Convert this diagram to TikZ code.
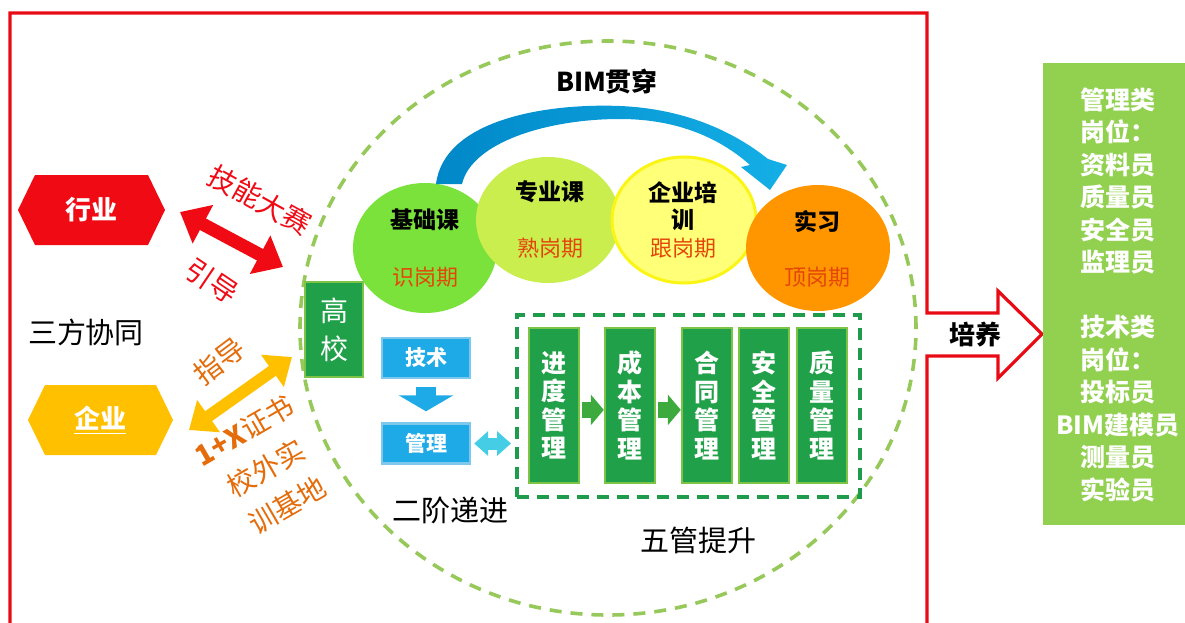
\documentclass[tikz,border=0pt]{standalone}
\usepackage{fontspec}
\setmainfont{Noto Sans CJK SC}
\usetikzlibrary{arrows.meta,shapes.geometric}
\definecolor{framered}{RGB}{232,10,20}
\definecolor{hyred}{RGB}{240,10,20}
\definecolor{qyorange}{RGB}{255,192,0}
\definecolor{txtorange}{RGB}{228,108,10}
\definecolor{ringgreen}{RGB}{150,200,90}
\definecolor{boxgreen}{RGB}{32,160,72}
\definecolor{boxedge}{RGB}{125,195,70}
\definecolor{rectgreen}{RGB}{30,155,75}
\definecolor{c1col}{RGB}{122,226,58}
\definecolor{c2col}{RGB}{202,238,78}
\definecolor{c3col}{RGB}{255,255,120}
\definecolor{c3edge}{RGB}{250,245,20}
\definecolor{c4col}{RGB}{255,150,0}
\definecolor{subred}{RGB}{228,70,10}
\definecolor{bluebox}{RGB}{30,170,230}
\definecolor{blueedge}{RGB}{125,200,235}
\definecolor{cyanarr}{RGB}{70,205,230}
\definecolor{arrgreen}{RGB}{60,170,60}
\definecolor{jobgreen}{RGB}{146,208,80}
\definecolor{bigblueL}{RGB}{0,135,200}
\definecolor{bigblueR}{RGB}{20,175,230}
\newcommand\fsz[2]{\fontsize{#1}{#2}\selectfont}
\begin{document}
\begin{tikzpicture}[x=0.5pt,y=-0.5pt,
  gbox/.style={draw=boxedge,fill=boxgreen,line width=1.2pt,text=white,inner sep=0pt,align=center},
  fivebox/.style={gbox,minimum width=25pt,minimum height=77.5pt,font=\fsz{12.5pt}{14.25pt}\bfseries},
  bbox/.style={draw=blueedge,fill=bluebox,line width=1.2pt,text=white,inner sep=0pt,minimum width=44pt,minimum height=20pt,font=\fsz{10.5pt}{12pt}\bfseries},
  ball/.style={ellipse,inner sep=0pt,minimum width=72pt,minimum height=63pt},
  title/.style={font=\fsz{11.5pt}{14pt}\bfseries,text=black,inner sep=0pt},
  sub/.style={font=\fsz{11pt}{13pt},text=subred,inner sep=0pt},
  plain/.style={font=\fsz{14.5pt}{17pt},text=black,inner sep=0pt},
  redtxt/.style={font=\fsz{14pt}{16pt},text=hyred,inner sep=0pt},
  orgtxt/.style={font=\fsz{14pt}{21.5pt},text=txtorange,inner sep=0pt,align=center},
  greenarrow/.style={draw=arrgreen,line width=8pt,-{Triangle[length=6.5pt,width=15pt]}},
]
\useasboundingbox (0,0) rectangle (1185,622);
\clip (0,0) rectangle (1185,622);

% dashed ring
\draw[ringgreen,line width=1.8pt,dash pattern=on 6pt off 4.5pt] (608,328) ellipse [x radius=154pt,y radius=143.5pt];

% red frame with arrow
\draw[framered,line width=1.6pt,line join=miter]
  (10,640) -- (10,13) -- (927,13) -- (927,313) -- (998,313) -- (998,291) -- (1042,334)
  -- (998,378) -- (998,356) -- (927,356) -- (927,640);
\node[font=\fsz{13pt}{15pt}\bfseries,inner sep=0pt] (py) at (975,335) {培养};

% job box
\node[fill=jobgreen,minimum width=73pt,minimum height=231pt,inner sep=0pt] (jobbox) at (1116,294) {};
\node[font=\fsz{12.5pt}{16.25pt}\bfseries,text=white,align=center,inner sep=0pt] (jobs) at (1118,295)
  {管理类\\岗位：\\资料员\\质量员\\安全员\\监理员\\[16.25pt]技术类\\岗位：\\投标员\\BIM建模员\\测量员\\实验员};

% hexagons
\fill[hyred] (18,210) -- (35,175) -- (148,175) -- (165,210) -- (148,245) -- (35,245) -- cycle;
\node[font=\fsz{13pt}{15pt}\bfseries,text=white,inner sep=0pt] (hy) at (91.5,210) {行业};
\fill[qyorange] (28,420) -- (45,385) -- (156,385) -- (173,420) -- (156,455) -- (45,455) -- cycle;
\node[font=\fsz{13pt}{15pt}\bfseries,text=white,inner sep=0pt] (qy) at (100.5,420) {\underline{企业}};
\node[plain] (sf) at (86,332) {三方协同};

% gaoxiao
\node[gbox,minimum width=29pt,minimum height=47.5pt,font=\fsz{14pt}{19pt}] (gx) at (334,329.5) {高\\校};

% double arrows
\coordinate (r1) at (180,212);
\coordinate (r2) at (283,267);
\draw[hyred,line width=6.5pt,{Triangle[length=13pt,width=21pt]}-{Triangle[length=13pt,width=21pt]}] (r1) -- (r2);
\coordinate (o1) at (189,430);
\coordinate (o2) at (292,357);
\draw[qyorange,line width=6pt,{Triangle[length=12pt,width=19pt]}-{Triangle[length=12pt,width=19pt]}] (o1) -- (o2);
\node[redtxt,rotate=-29] (jn) at (260,200) {技能大赛};
\node[redtxt,rotate=-34] (yd) at (212,281) {引导};
\node[orgtxt,rotate=37] (zd) at (219,361) {指导};
\node[orgtxt,rotate=30] (zs) at (266,468) {\textbf{1+X}证书\\校外实\\训基地};

% course circles
\node[ball,fill=c1col,minimum height=65pt] (c1) at (425,248) {};
\node[ball,fill=c2col] (c2) at (548,220) {};
\node[ball,fill=c3col,draw=c3edge,line width=1.5pt] (c3) at (684,220) {};
\node[ball,fill=c4col] (c4) at (818,248) {};
\node[title] (t1) at (425,220) {基础课};
\node[sub] (s1) at (425,277) {识岗期};
\node[title] (t2) at (550,192) {专业课};
\node[sub] (s2) at (550,248) {熟岗期};
\node[title] (t3) at (683,193) {企业培};
\node[title] (t3b) at (683,220) {训};
\node[sub] (s3) at (683,248) {跟岗期};
\node[title] (t4) at (817,222) {实习};
\node[sub] (s4) at (817,277) {顶岗期};

% BIM arrow
\path[left color=bigblueL,right color=bigblueR]
  (436,184) .. controls (444,120) and (545,103) .. (620,106)
  .. controls (690,109) and (738,135) .. (768,159)
  -- (787,165) -- (770,190) -- (741,167) -- (750,165)
  .. controls (722,140) and (680,119) .. (620,119)
  .. controls (548,119) and (472,142) .. (462,184) -- cycle;
\node[font=\fsz{13pt}{15pt}\bfseries,inner sep=0pt] (bim) at (607,82) {BIM贯穿};

% two stage
\node[bbox] (js) at (426,358) {技术};
\node[bbox] (gl) at (426,443.5) {管理};
\draw[bluebox,line width=10pt,-{Triangle[length=8pt,width=27pt]},shorten <=4pt,shorten >=5.5pt] (js) -- (gl);
\node[plain] (ej) at (450,510) {二阶递进};

% five management
\node[draw=rectgreen,line width=2pt,dash pattern=on 6pt off 4pt,minimum width=171.5pt,minimum height=91pt,inner sep=0pt] (five) at (688.5,406) {};
\draw[cyanarr,line width=6pt,{Triangle[length=7pt,width=12pt]}-{Triangle[length=7pt,width=12pt]},shorten <=1.5pt,shorten >=2pt] (gl.east) -- (gl.east -| five.west);
\node[fivebox] (b1) at (554,405.5) {进\\度\\管\\理};
\node[fivebox] (b2) at (630,405.5) {成\\本\\管\\理};
\node[fivebox] (b3) at (707,405.5) {合\\同\\管\\理};
\node[fivebox] (b4) at (764,405.5) {安\\全\\管\\理};
\node[fivebox] (b5) at (822,405.5) {质\\量\\管\\理};
\draw[greenarrow,shorten <=1pt] ([yshift=-2.2pt]b1.east) -- ([yshift=-2.2pt]b2.west);
\draw[greenarrow,shorten <=1pt] ([yshift=-2.2pt]b2.east) -- ([yshift=-2.2pt]b3.west);
\node[plain] (wg) at (698,540) {五管提升};
\end{tikzpicture}
\end{document}
